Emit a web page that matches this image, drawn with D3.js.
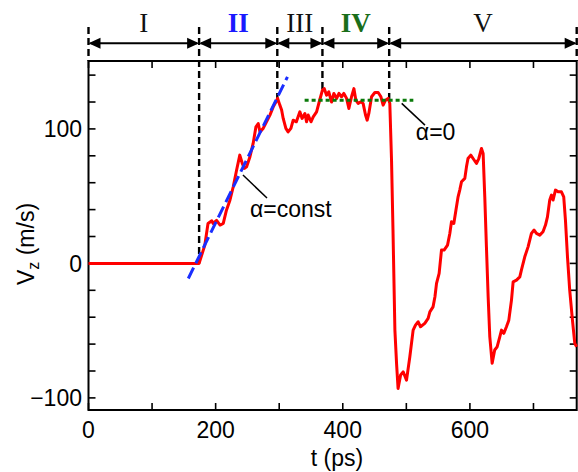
<!DOCTYPE html>
<meta charset="utf-8">
<style>
    body { margin: 0; overflow: hidden; background: #fff; }
    text { font-family: "Liberation Sans", Arial, sans-serif; }
    .roman { font-family: "Liberation Serif", "Times New Roman", serif; }
</style>
<svg id="canvas" width="578" height="472"></svg>
<script src="https://d3js.org/d3.v7.min.js"></script>
<script>

    // red curve (t in ps, Vz in m/s)
    var tVals = [0, 174, 183, 188, 194, 196, 201.5, 207, 212, 217, 222.5, 227.7, 233, 238, 242, 245, 248.7, 254, 259, 263.4,
        267, 269.7, 274.8, 280, 285.4, 290.6, 294.8, 297.5, 301, 303.8, 306.3, 310.5, 314, 318.4, 322, 327, 332.5, 336, 340.4, 343,
        345.6, 350, 353.5, 358.8, 363, 368, 370.8, 374.5, 378, 382.4, 386, 390.4, 394, 398, 401.7, 406, 409.6, 413.8, 417.5, 420.6,
        424.2, 428.5, 432, 435.8, 438.4, 441, 445.3, 450.5, 455.7, 460, 463.5, 467.3, 471.4, 474, 476.7, 479, 482, 484.6, 487, 491,
        495, 500.3, 505.5, 510.7, 514.4, 518.6, 522.3, 529, 534.3, 537, 542, 545, 547.5, 551.6, 555.3, 559.4, 564.8, 568.4, 571, 574.7,
        578, 581.4, 584, 586.8, 592, 594.6, 597, 601.4, 605, 610.4, 614, 618.2, 620.8, 623.4, 626, 628.7, 631.3, 635, 639, 642.8,
        647, 649.7, 653.3, 657.5, 661.2, 665.4, 668, 673.3, 678.5, 681, 686.3, 691.5, 696.8, 701, 704.7, 709.9, 715, 718.9, 722, 725.6,
        728.3, 730.8, 734.6, 738.7, 744, 747.6, 750.3, 753.5, 757, 761.3, 765, 768];
    var vzVals = [0, 0, 13.6, 29.7, 31.7, 29.7, 32, 28.5, 29.7, 39.6, 47, 57, 69.4, 80.5, 74.3, 70.6, 71.8, 79.3, 89.2, 101.6,
        104, 97.8, 100.4, 105.3, 110.3, 116.4, 120, 122.7, 117.7, 114, 107.8, 100.4, 97.8, 100.4, 106.5, 105.3, 112.7, 107.8, 111.5, 105.3,
        110.3, 105.3, 109, 112.7, 120.2, 128.8, 130, 125, 127.6, 120, 126.4, 122.7, 126.4, 123.9, 126.4, 122.7, 115.2, 123.9, 130, 121.4,
        119, 120.2, 119, 110.3, 106.5, 111.5, 123.9, 127.1, 127.1, 123.9, 117.7, 121.4, 122.7, 119, 76.8, 24.8, -49.6, -74.3, -93, -83,
        -80.6, -86.8, -69.4, -49.6, -45.9, -43.4, -47.1, -44.6, -40.9, -36, -32.3, -24.8, -14.9, -7.4, 9.9, 9.9, 13.6, 22.3, 30.9, 29.7,
        39.6, 49.5, 54.5, 60.7, 63.2, 71.8, 78, 80.5, 78, 74.3, 78, 85.5, 81.8, 49.5, 12.3, -24.8, -54.6, -74.3, -64.4, -62,
        -54.6, -49.6, -52, -47.1, -42.2, -27.3, -13.7, -12.4, -10, -5, 4.9, 12.3, 22.3, 24.8, 22.3, 21, 23.5, 28.5, 34.6, 47.1,
        50.8, 47.1, 54.5, 53.2, 53.2, 49.5, 32.2, 4.9, -19.9, -42.2, -59.5, -62];

    // regime boundaries (ps) and labels
    var bounds = [0, 174, 297, 368, 473, 768];
    var regimes = ["I", "II", "III", "IV", "V"];
    var regimeColors = ["#111", "#1a1aff", "#111", "#1a6e1a", "#111"];
    var regimeBold = [false, true, false, true, false];

    // linear fit (alpha = const) and plateau (alpha = 0)
    var fitT = [157, 313], fitV = [-11.2, 138.7];
    var flatT = [340, 511], flatV = 121.4;

    var xTicks = [0, 100, 200, 300, 400, 500, 600, 700];
    var xLabels = [0, 200, 400, 600];
    var yTicks = [-100, -80, -60, -40, -20, 0, 20, 40, 60, 80, 100, 120, 140];
    var yLabels = [-100, 0, 100];

    var svg = d3.select("svg");
    var mLeft = 88.5, mRight = 576.7, mTop = 61, mBottom = 410;

    var x = d3.scaleLinear().domain([0, 768]).range([mLeft, mRight]);
    var y = d3.scaleLinear().domain([-109, 150.5]).range([mBottom, mTop]);

    // frame
    svg.append("rect")
        .attr("x", mLeft).attr("y", mTop)
        .attr("width", mRight - mLeft).attr("height", mBottom - mTop)
        .attr("fill", "none").attr("stroke", "#000").attr("stroke-width", 2);

    // inward ticks on all four sides
    var tk = 7;
    var g = svg.append("g").attr("stroke", "#000").attr("stroke-width", 1.6);
    xTicks.forEach(function(t) {
        g.append("line").attr("x1", x(t)).attr("x2", x(t)).attr("y1", mBottom).attr("y2", mBottom - tk);
        g.append("line").attr("x1", x(t)).attr("x2", x(t)).attr("y1", mTop).attr("y2", mTop + tk);
    });
    yTicks.forEach(function(v) {
        g.append("line").attr("y1", y(v)).attr("y2", y(v)).attr("x1", mLeft).attr("x2", mLeft + tk);
        g.append("line").attr("y1", y(v)).attr("y2", y(v)).attr("x1", mRight).attr("x2", mRight - tk);
    });

    svg.selectAll(".xl").data(xLabels).enter().append("text")
        .attr("x", function(d) { return x(d); }).attr("y", 438)
        .attr("text-anchor", "middle").attr("font-size", 23).text(function(d) { return d; });
    svg.selectAll(".yl").data(yLabels).enter().append("text")
        .attr("x", 82).attr("y", function(d) { return y(d); }).attr("dy", "0.36em")
        .attr("text-anchor", "end").attr("font-size", 23)
        .text(function(d) { return d < 0 ? "\u2212" + (-d) : d; });

    svg.append("text").attr("x", 337).attr("y", 466).attr("text-anchor", "middle")
        .attr("font-size", 23).text("t (ps)");
    var yl = svg.append("text").attr("transform", "translate(34,244) rotate(-90)")
        .attr("text-anchor", "middle").attr("font-size", 23);
    yl.append("tspan").text("V");
    yl.append("tspan").attr("font-size", 16).attr("dy", 5).text("z");
    yl.append("tspan").attr("dy", -5).text(" (m/s)");

    // curve value at a boundary, for the dashed separators
    var pts = tVals.map(function(t, i) { return [t, vzVals[i]]; });
    var bis = d3.bisector(function(d) { return d[0]; }).left;
    function vzAt(t) {
        var i = bis(pts, t);
        if (i <= 0) return pts[0][1];
        if (i >= pts.length) return pts[pts.length - 1][1];
        var a = pts[i - 1], b = pts[i];
        return a[1] + (b[1] - a[1]) * (t - a[0]) / (b[0] - a[0]);
    }

    var arrowY = 43.3, dashTop = 27;
    bounds.forEach(function(b, i) {
        var inner = i > 0 && i < bounds.length - 1;
        svg.append("line")
            .attr("x1", x(b)).attr("x2", x(b))
            .attr("y1", dashTop).attr("y2", inner ? y(vzAt(b)) : mTop)
            .attr("stroke", "#000").attr("stroke-width", 2.4)
            .attr("stroke-dasharray", "7,4");
    });

    // double arrows + labels
    var ah = 12, aw = 5.5;
    regimes.forEach(function(r, i) {
        var x0 = x(bounds[i]), x1 = x(bounds[i + 1]);
        svg.append("line").attr("x1", x0 + 2).attr("x2", x1 - 2)
            .attr("y1", arrowY).attr("y2", arrowY)
            .attr("stroke", "#000").attr("stroke-width", 2);
        svg.append("path")
            .attr("d", "M" + x0 + "," + arrowY + "l" + ah + "," + (-aw) + "v" + (2 * aw) + "z")
            .attr("fill", "#000");
        svg.append("path")
            .attr("d", "M" + x1 + "," + arrowY + "l" + (-ah) + "," + (-aw) + "v" + (2 * aw) + "z")
            .attr("fill", "#000");
        svg.append("text").attr("class", "roman")
            .attr("x", (x0 + x1) / 2).attr("y", 32)
            .attr("text-anchor", "middle").attr("font-size", 27)
            .attr("font-weight", regimeBold[i] ? "bold" : "normal")
            .attr("fill", regimeColors[i]).text(r);
    });

    // red curve
    svg.append("path").datum(pts)
        .attr("fill", "none").attr("stroke", "#ff0000").attr("stroke-width", 3)
        .attr("stroke-linejoin", "round")
        .attr("d", d3.line().x(function(d) { return x(d[0]); }).y(function(d) { return y(d[1]); }));

    // fit lines
    svg.append("line")
        .attr("x1", x(fitT[0])).attr("y1", y(fitV[0]))
        .attr("x2", x(fitT[1])).attr("y2", y(fitV[1]))
        .attr("stroke", "#1a2eff").attr("stroke-width", 3).attr("stroke-dasharray", "12,5");
    svg.append("line")
        .attr("x1", x(flatT[0])).attr("y1", y(flatV))
        .attr("x2", x(flatT[1])).attr("y2", y(flatV))
        .attr("stroke", "#0a7a0a").attr("stroke-width", 3).attr("stroke-dasharray", "4,3");

    // annotations
    var notes = [
        { text: "\u03b1=const", tx: 254, tv: 34.5, l: [[243, 65.7], [280.8, 48.6]] },
        { text: "\u03b1=0", tx: 515, tv: 91.7, l: [[492.7, 119], [529.3, 102.8]] }
    ];
    notes.forEach(function(n) {
        svg.append("line")
            .attr("x1", x(n.l[0][0])).attr("y1", y(n.l[0][1]))
            .attr("x2", x(n.l[1][0])).attr("y2", y(n.l[1][1]))
            .attr("stroke", "#000").attr("stroke-width", 1.5);
        svg.append("text").attr("x", x(n.tx)).attr("y", y(n.tv))
            .attr("font-size", 23).text(n.text);
    });

</script>
